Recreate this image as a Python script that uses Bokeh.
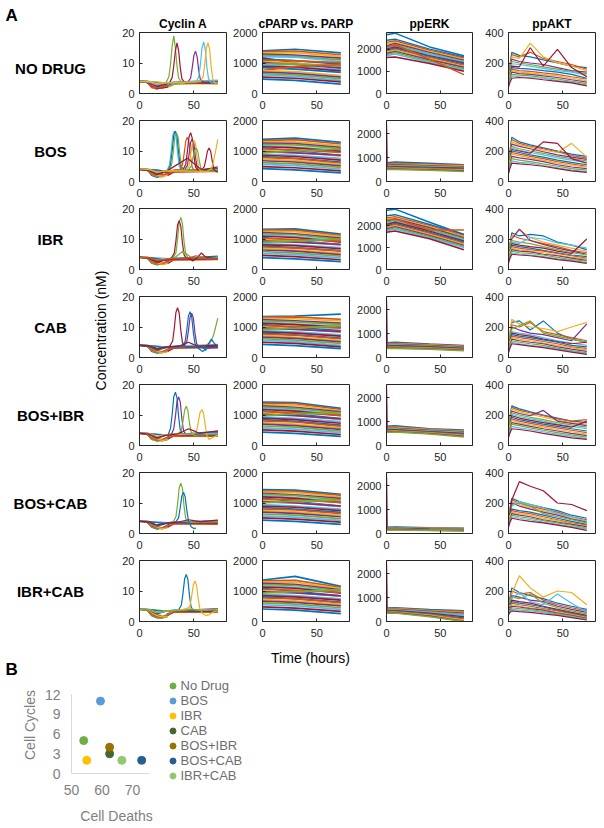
import math
from bokeh.plotting import figure
from bokeh.layouts import row, column
from bokeh.models import Range1d, FixedTicker, Legend, LegendItem, ColumnDataSource
from bokeh.core.properties import value
from bokeh.embed import file_html
from bokeh.resources import INLINE

NaN = float("nan")

# ---------------- labels ----------------
CONDITIONS = ["NO DRUG", "BOS", "IBR", "CAB", "BOS+IBR", "BOS+CAB", "IBR+CAB"]
COLUMN_TITLES = ["Cyclin A", "cPARP vs. PARP", "ppERK", "ppAKT"]
X_TICKS = [0, 50]
CYC_TICKS = [0, 10, 20]
PARP_TICKS = [0, 1000, 2000]
ERK_TICKS = [0, 1000, 2000]
AKT_TICKS = [0, 200, 400]
TIME_MAX = 80
CYC_MAX = 20
PARP_MAX = 2000
AKT_MAX = 400
ERK_MAX = [2750, 2550, 2780, 2550, 2550, 2550, 2550]

# MATLAB default line colours
B_, O_, Y_, P_, G_, C_, R_ = "#0072BD", "#D95319", "#EDB120", "#7E2F8E", "#77AC30", "#4DBEEE", "#A2142F"
MATLAB = [B_, O_, Y_, P_, G_, C_, R_]

# ---------------- Cyclin A ----------------
T_CYC_BASE = [0, 7, 11, 16, 21, 26, 32, 72]

CYC_BASE_NODRUG = [
    [4.0, 3.9, 2.3, 1.6, 2.0, 3.2, 3.5, 3.8], [4.1, 3.8, 1.9, 1.4, 2.3, 3.5, 3.7, 4.2],
    [3.9, 3.9, 3.1, 2.0, 1.6, 2.3, 3.3, 3.4], [4.0, 4.0, 3.6, 2.6, 1.9, 2.6, 3.6, 3.9],
    [4.2, 4.0, 3.7, 3.2, 2.4, 2.1, 3.0, 3.6], [4.0, 3.9, 3.8, 3.7, 3.6, 3.6, 3.7, 4.4],
    [3.9, 3.6, 2.4, 1.7, 1.8, 2.1, NaN, NaN], [4.1, 4.0, 3.9, 3.6, 3.4, 3.3, 3.5, 3.9],
    [4.0, 3.7, 2.1, 1.9, 2.2, 2.4, NaN, NaN], [4.0, 4.0, 3.9, 3.8, 3.6, 3.4, 3.2, 3.1]]
CYC_BASE_BOS = [
    [4.2, 4.0, 2.0, 1.3, 1.8, 3.0, 3.6, 3.9], [4.1, 3.9, 2.8, 1.7, 1.5, 2.4, 3.4, 3.5],
    [4.0, 4.0, 3.5, 2.4, 1.9, 2.8, 3.7, 3.3], [4.1, 3.9, 3.8, 3.5, 3.1, 2.9, 3.5, 4.0],
    [4.0, 3.8, 2.3, 1.6, 2.0, NaN, NaN, NaN], [4.2, 4.1, 3.9, 3.8, 3.6, 3.5, 3.7, 3.6],
    [4.0, 3.9, 3.6, 3.0, 2.3, 2.0, 3.1, 3.4], [4.1, 4.0, 3.9, 3.7, 3.5, 3.4, 3.4, 4.3],
    [4.0, 3.7, 2.5, 1.9, 2.2, 2.6, 3.3, 3.2], [4.0, 3.9, 3.2, 2.1, 1.7, 2.1, NaN, NaN]]
CYC_BASE_IBR = [
    [4.0, 3.9, 2.1, 1.5, 1.8, 2.9, 3.6, 3.7], [4.1, 4.0, 2.9, 1.9, 1.6, 2.5, 3.4, 3.9],
    [4.0, 3.8, 3.6, 2.7, 2.0, 2.4, 3.5, 3.4], [3.9, 3.9, 3.8, 3.6, 3.3, 3.1, 3.4, 3.6],
    [4.0, 3.7, 2.2, 1.6, 1.9, 2.3, NaN, NaN], [4.1, 4.0, 3.9, 3.8, 3.7, 3.6, 3.8, 4.1],
    [4.0, 3.9, 3.4, 2.4, 1.8, 2.0, 3.2, 3.3], [4.0, 4.0, 3.9, 3.5, 3.2, 3.4, 3.6, 4.4],
    [4.1, 3.8, 2.6, 1.8, 2.1, 2.7, 3.1, 3.2], [4.0, 3.9, 3.3, 2.2, 1.7, 2.0, NaN, NaN]]
CYC_BASE_CAB = [
    [4.0, 3.8, 2.0, 1.4, 1.7, 2.8, 3.4, 3.6], [4.1, 4.0, 2.8, 1.8, 1.5, 2.3, 3.3, 3.8],
    [4.0, 3.9, 3.5, 2.6, 1.9, 2.2, 3.4, 3.3], [4.0, 3.9, 3.8, 3.6, 3.4, 3.2, 3.4, 3.9],
    [4.1, 3.7, 2.2, 1.5, 1.8, NaN, NaN, NaN], [4.0, 4.0, 3.9, 3.8, 3.6, 3.5, 3.7, 4.3],
    [4.0, 3.9, 3.3, 2.3, 1.7, 2.0, 3.1, 3.4], [4.1, 4.0, 3.8, 3.6, 3.3, 3.3, 3.5, 3.6],
    [4.0, 3.6, 2.5, 1.8, 2.0, 2.6, 3.2, 3.1], [4.0, 3.9, 3.2, 2.1, 1.6, 1.9, NaN, NaN]]
CYC_BASE_BOSIBR = [
    [4.0, 3.8, 2.0, 1.5, 1.8, 2.9, 3.4, 3.6], [4.1, 3.9, 2.7, 1.8, 1.5, 2.4, 3.3, 3.8],
    [4.0, 3.9, 3.5, 2.6, 1.9, 2.3, 3.5, 3.4], [4.0, 4.0, 3.8, 3.6, 3.4, 3.3, 3.5, 4.2],
    [4.1, 3.7, 2.1, 1.4, 1.6, 1.8, NaN, NaN], [4.0, 4.0, 3.9, 3.8, 3.6, 3.5, 3.7, 4.0],
    [4.0, 3.9, 3.3, 2.3, 1.8, 2.1, 3.2, 3.3], [4.1, 4.0, 3.8, 3.6, 3.4, 3.3, 3.6, 4.6],
    [4.0, 3.6, 2.4, 1.8, 2.1, 2.6, 3.1, 3.0], [4.0, 3.9, 3.2, 2.2, 1.7, 2.0, NaN, NaN]]
CYC_BASE_BOSCAB = [
    [4.0, 3.8, 2.1, 1.4, 1.8, 2.9, 3.5, 3.7], [4.1, 3.9, 2.8, 1.8, 1.5, 2.4, 3.4, 4.0],
    [4.0, 3.9, 3.5, 2.5, 1.9, 2.3, 3.5, 3.5], [4.0, 4.0, 3.8, 3.6, 3.4, 3.3, 3.5, 4.2],
    [4.1, 3.7, 2.2, 1.5, 1.7, 2.0, NaN, NaN], [4.0, 4.0, 3.9, 3.8, 3.7, 3.6, 3.8, 4.3],
    [4.0, 3.9, 3.3, 2.2, 1.8, 2.1, 3.2, 3.3], [4.1, 4.0, 3.8, 3.6, 3.4, 3.4, 3.6, 3.8],
    [4.0, 3.6, 2.4, 1.7, 2.0, 2.5, 3.1, 3.0], [4.0, 3.9, 3.2, 2.1, 1.6, 1.9, NaN, NaN]]
CYC_BASE_IBRCAB = [
    [4.0, 3.8, 1.9, 1.2, 1.1, 2.6, 3.4, 3.6], [4.1, 3.9, 2.7, 1.6, 1.3, 2.2, 3.3, 3.9],
    [4.0, 3.9, 3.5, 2.5, 1.8, 2.2, 3.4, 3.5], [4.0, 4.0, 3.8, 3.6, 3.5, 3.4, 3.5, 4.2],
    [4.1, 3.7, 2.1, 1.3, 1.2, 1.5, NaN, NaN], [4.0, 4.0, 3.9, 3.8, 3.6, 3.6, 3.8, 4.0],
    [4.0, 3.9, 3.2, 2.2, 1.6, 2.0, 3.2, 3.3], [4.1, 4.0, 3.9, 3.6, 3.4, 3.3, 3.5, 3.7],
    [4.0, 3.6, 2.3, 1.5, 1.4, 2.2, 3.0, 3.0], [4.0, 3.9, 3.1, 2.0, 1.5, 1.8, NaN, NaN]]

# cells that enter mitosis: (times, values) per cell
CYC_PEAK_T_NODRUG = [
    [0, 9, 16, 24.5, 27, 28.5, 30, 31.5, 33, 34.5, 36, 39, 72],
    [0, 9, 16, 27.5, 30, 31.5, 33, 34.5, 36, 37.5, 39, 42, 72],
    [0, 9, 16, 24, 44.5, 47, 48.5, 50, 51.5, 53, 54.5, 56, 59, 72],
    [0, 9, 16, 24, 52, 54.5, 56, 57.5, 59, 60.5, 62, 63.5, 66, 72],
    [0, 9, 16, 24, 56, 58.5, 60, 61.5, 63, 64.5, 66, 67.5, 70, 72]]
CYC_PEAK_V_NODRUG = [
    [4.0, 3.6, 2.6, 3.6, 5.5, 9.5, 15.5, 18.9, 15, 9, 5, 3.6, 3.9],
    [4.0, 3.4, 2.2, 3.4, 5.2, 9, 14, 16.6, 14, 8.5, 4.8, 3.5, 3.3],
    [4.0, 3.5, 2.4, 3.3, 3.8, 5, 8.5, 12.5, 13.9, 12, 7.5, 4.5, 3.6, 3.8],
    [4.0, 3.7, 2.9, 3.4, 3.8, 5.5, 9.5, 15, 16.9, 14.5, 8.5, 4.8, 3.5, 3.6],
    [4.0, 3.8, 3.2, 3.5, 3.9, 5.5, 9.5, 15, 16.7, 14.5, 8.5, 4.5, 3.0, 3.3]]
CYC_PEAK_C_NODRUG = [G_, R_, P_, C_, Y_]

CYC_PEAK_T_BOS = [
    [0, 9, 16, 25, 27.5, 29, 30.5, 32, 33.5, 35, 36.5, 39, 72],
    [0, 9, 16, 26, 28.5, 30, 31.5, 33, 34.5, 36, 37.5, 40, 72],
    [0, 9, 16, 27, 29.5, 31, 32.5, 34, 35.5, 37, 38.5, 41, 72],
    [0, 9, 16, 25, 37, 39.5, 41, 42.5, 44, 45.5, 47, 48.5, 51, 72],
    [0, 9, 16, 25, 40, 42.5, 44, 45.5, 47, 48.5, 50, 51.5, 54, 72],
    [0, 9, 16, 25, 41.5, 44, 45.5, 47, 48.5, 50, 51.5, 53, 55.5, 72],
    [0, 9, 16, 25, 43, 45.5, 47, 48.5, 50, 51.5, 53, 54.5, 57, 72],
    [0, 9, 16, 25, 45, 47.5, 49, 50.5, 52, 53.5, 55, 56.5, 59, 72],
    [0, 9, 16, 25, 44, 57, 59.5, 61, 62.5, 64, 65.5, 67, 68.5, 72],
    [0, 9, 16, 25, 45, 62, 66, 68, 70, 72]]
CYC_PEAK_V_BOS = [
    [4.1, 3.8, 2.8, 3.5, 5.3, 9.5, 15, 16.6, 15, 9.5, 5, 3.6, 3.7],
    [4.0, 3.5, 2.3, 3.4, 5.5, 9.8, 15.2, 16.5, 15, 9.3, 5.2, 3.7, 3.5],
    [4.0, 3.7, 2.7, 3.5, 5.4, 9.6, 14.8, 16.0, 14.6, 9.2, 5.0, 3.8, 3.9],
    [4.1, 3.8, 2.9, 3.4, 3.9, 5.4, 9.0, 13.2, 14.5, 13.0, 8.0, 4.6, 3.4, 3.6],
    [4.0, 3.6, 2.5, 3.3, 3.9, 5.6, 9.8, 14.6, 16.0, 14.2, 8.6, 4.8, 3.5, 4.8],
    [4.0, 3.7, 2.2, 3.2, 3.8, 5.2, 8.8, 12.8, 14.0, 12.6, 7.8, 4.6, 3.4, 3.6],
    [4.1, 3.9, 3.0, 3.5, 3.8, 5.0, 8.5, 12.4, 13.5, 12.2, 7.6, 4.4, 3.2, 3.4],
    [4.0, 3.8, 2.6, 3.3, 3.9, 5.0, 7.6, 10.2, 11.0, 10.0, 6.8, 4.2, 3.2, 3.5],
    [4.0, 3.6, 2.4, 3.4, 7.6, 3.9, 4.8, 7.2, 10.0, 11.0, 9.8, 6.4, 3.8, 3.0],
    [4.1, 3.9, 3.1, 3.5, 3.4, 3.3, 4.2, 6.5, 10.0, 13.8]]
CYC_PEAK_C_BOS = [C_, B_, G_, O_, R_, P_, Y_, G_, R_, Y_]

CYC_PEAK_T_IBR = [
    [0, 9, 16, 26, 31, 33.5, 35, 36.5, 38, 39.5, 41, 42.5, 45, 72],
    [0, 9, 16, 26, 29.5, 32, 33.5, 35, 36.5, 38, 39.5, 41, 43.5, 72],
    [0, 9, 16, 26, 32, 36, 40, 44, 48, 72],
    [0, 9, 16, 26, 46, 49, 53, 57, 61, 72],
    [0, 9, 16, 26, 42, 47, 52, 57, 62, 72]]
CYC_PEAK_V_IBR = [
    [4.0, 3.7, 2.5, 3.4, 3.9, 5.5, 9.8, 15.5, 17.1, 15.0, 9.0, 5.0, 3.6, 3.8],
    [4.1, 3.6, 2.3, 3.3, 3.8, 5.4, 9.4, 14.6, 16.0, 14.2, 8.6, 4.8, 3.5, 3.6],
    [4.0, 3.8, 2.9, 3.4, 3.8, 4.9, 6.0, 4.9, 3.8, 3.7],
    [4.0, 3.7, 2.7, 3.3, 3.6, 2.8, 3.9, 5.4, 4.0, 3.5],
    [4.0, 3.9, 3.0, 3.5, 3.6, 4.0, 4.5, 4.0, 3.6, 3.5]]
CYC_PEAK_C_IBR = [G_, R_, G_, R_, O_]

CYC_PEAK_T_CAB = [
    [0, 9, 16, 25, 28, 30.5, 32, 33.5, 35, 36.5, 38, 39.5, 42, 72],
    [0, 9, 16, 25, 39.5, 42, 43.5, 45, 46.5, 48, 49.5, 51, 54, 58, 62, 72],
    [0, 9, 16, 25, 41, 43.5, 45, 46.5, 48, 49.5, 51, 52.5, 55, 72],
    [0, 9, 16, 25, 45, 60, 65, 68, 70, 72],
    [0, 9, 16, 25, 50, 58, 61, 63.5, 66, 68.5, 72],
    [0, 9, 16, 25, 36, 41, 45, 49, 54, 72]]
CYC_PEAK_V_CAB = [
    [4.0, 3.6, 2.4, 3.3, 3.8, 5.4, 9.6, 14.8, 16.3, 14.6, 8.8, 4.9, 3.5, 3.7],
    [4.0, 3.7, 2.6, 3.3, 3.8, 5.3, 9.0, 13.6, 15.0, 13.4, 8.2, 4.6, 3.0, 2.0, 3.0, 3.4],
    [4.1, 3.8, 2.8, 3.4, 3.8, 5.2, 8.8, 13.2, 14.5, 13.0, 8.0, 4.6, 3.3, 3.5],
    [4.0, 3.9, 3.0, 3.5, 3.6, 3.8, 4.8, 7.2, 10.0, 12.9],
    [4.0, 3.7, 2.7, 3.4, 3.6, 3.3, 2.4, 4.6, 6.0, 4.8, 3.2],
    [4.0, 3.8, 2.9, 3.5, 3.7, 4.4, 5.0, 4.4, 3.7, 4.1]]
CYC_PEAK_C_CAB = [R_, B_, P_, G_, B_, R_]

CYC_PEAK_T_BOSIBR = [
    [0, 9, 16, 24, 26.5, 28.5, 30, 31.5, 33, 34.5, 36, 37.5, 40, 72],
    [0, 9, 16, 24, 29.5, 31.5, 33, 34.5, 36, 37.5, 39, 40.5, 43, 72],
    [0, 9, 16, 24, 36, 38.5, 40, 41.5, 43, 44.5, 46, 47.5, 50, 72],
    [0, 9, 16, 24, 50, 52.5, 54, 55.5, 57.5, 59, 60.5, 62, 64, 67, 72],
    [0, 9, 16, 24, 35, 40, 45, 50, 55, 72]]
CYC_PEAK_V_BOSIBR = [
    [4.0, 3.6, 2.4, 3.3, 3.7, 5.6, 10.0, 16.0, 17.5, 15.6, 9.4, 5.0, 3.5, 3.6],
    [4.1, 3.7, 2.6, 3.4, 3.8, 5.5, 9.4, 14.4, 15.9, 14.2, 8.6, 4.8, 3.4, 3.5],
    [4.0, 3.8, 2.8, 3.4, 3.8, 5.0, 8.0, 11.6, 12.9, 11.4, 7.2, 4.4, 3.3, 3.7],
    [4.0, 3.9, 3.0, 3.5, 3.8, 4.8, 7.4, 10.6, 11.8, 10.4, 6.4, 3.2, 2.0, 2.6, 3.4],
    [4.0, 3.7, 2.5, 3.3, 3.8, 4.6, 5.5, 4.8, 4.0, 4.8]]
CYC_PEAK_C_BOSIBR = [B_, P_, G_, Y_, R_]

CYC_PEAK_T_BOSCAB = [
    [0, 9, 16, 25, 31, 33.5, 35, 36.5, 38, 39.5, 41, 42.5, 45, 72],
    [0, 9, 16, 25, 33.5, 36, 37.5, 39, 40.5, 42, 43.5, 45, 47.5, 50, 52],
    [0, 9, 16, 25, 35, 40, 45, 50, 56, 72]]
CYC_PEAK_V_BOSCAB = [
    [4.0, 3.7, 2.6, 3.4, 3.8, 5.5, 9.6, 15.0, 16.5, 14.8, 8.8, 4.9, 3.6, 3.9],
    [4.1, 3.6, 2.4, 3.3, 3.8, 5.2, 8.6, 12.4, 13.5, 12.0, 7.6, 4.2, 2.2, 1.6, 1.8],
    [4.0, 3.8, 2.8, 3.4, 3.7, 4.1, 4.5, 4.2, 3.9, 4.4]]
CYC_PEAK_C_BOSCAB = [G_, B_, R_]

CYC_PEAK_T_IBRCAB = [
    [0, 9, 16, 25, 36, 38.5, 40, 41.5, 43, 44.5, 46, 47.5, 50, 72],
    [0, 9, 16, 25, 44, 46.5, 48, 49.5, 51, 52.5, 54, 55.5, 58, 61, 64, 68, 72],
    [0, 9, 16, 25, 37, 41, 45, 49, 54, 72],
    [0, 9, 16, 25, 40, 44, 48, 52, 56, 72]]
CYC_PEAK_V_IBRCAB = [
    [4.0, 3.7, 2.5, 3.4, 3.8, 5.4, 9.2, 14.0, 15.4, 13.8, 8.4, 4.7, 3.5, 3.6],
    [4.0, 3.9, 3.0, 3.5, 3.9, 5.2, 8.4, 12.0, 13.3, 11.8, 7.4, 4.2, 2.6, 2.0, 2.2, 3.2, 3.5],
    [4.1, 3.8, 2.9, 3.4, 3.7, 4.1, 4.5, 4.1, 3.7, 3.9],
    [4.0, 3.8, 3.0, 3.5, 3.6, 3.8, 4.0, 3.8, 3.6, 4.1]]
CYC_PEAK_C_IBRCAB = [B_, Y_, Y_, G_]

# ---------------- cPARP vs PARP ----------------
T_PARP = [0, 30, 72]
PARP_NODRUG = [
    [1400, 1450, 1330], [1370, 1390, 1270], [1330, 1340, 1220], [1290, 1260, 1160], [1250, 1220, 1100],
    [1210, 1190, 1050], [1170, 1000, 820], [1130, 1080, 960], [1090, 1070, 1010], [1050, 1000, 900],
    [1010, 950, 840], [970, 960, 900], [930, 880, 780], [890, 860, 740], [850, 800, 690],
    [760, 880, 950], [750, 720, 590], [700, 660, 540], [650, 610, 490], [600, 560, 430],
    [540, 500, 380], [470, 430, 310]]
PARP_BOS = [
    [1380, 1420, 1280], [1340, 1370, 1230], [1300, 1300, 1180], [1260, 1240, 1120], [1220, 1200, 1080],
    [1180, 1130, 1020], [1140, 1100, 990], [1100, 1000, 860], [1060, 1040, 950], [1020, 960, 830],
    [980, 940, 860], [940, 1000, 1060], [900, 860, 760], [860, 820, 700], [820, 760, 640],
    [780, 750, 600], [730, 690, 560], [680, 640, 510], [620, 580, 460], [560, 520, 410],
    [490, 450, 350], [420, 380, 280]]
PARP_IBR = [
    [1320, 1330, 1160], [1290, 1290, 1120], [1250, 1240, 1080], [1210, 1170, 1030], [1170, 1140, 990],
    [1130, 1080, 940], [1090, 1050, 900], [1050, 950, 820], [1010, 990, 930], [970, 920, 800],
    [930, 900, 820], [890, 940, 1000], [850, 810, 720], [810, 780, 680], [770, 720, 620],
    [730, 700, 600], [690, 640, 540], [640, 600, 490], [590, 540, 440], [530, 490, 380],
    [460, 420, 320], [390, 350, 260]]
PARP_CAB = [
    [1340, 1360, 1420], [1320, 1330, 1250], [1280, 1270, 1200], [1240, 1200, 1130], [1200, 1170, 1080],
    [1160, 1100, 1020], [1120, 1080, 990], [1080, 980, 880], [1040, 1020, 960], [1000, 940, 830],
    [960, 920, 850], [920, 960, 1040], [880, 840, 740], [840, 800, 700], [800, 740, 640],
    [760, 730, 610], [720, 670, 560], [670, 630, 510], [620, 570, 460], [560, 520, 400],
    [500, 460, 350], [430, 390, 290]]
PARP_BOSIBR = [
    [1420, 1410, 1220], [1380, 1370, 1180], [1340, 1320, 1140], [1300, 1250, 1100], [1260, 1220, 1060],
    [1220, 1160, 1010], [1180, 1130, 980], [1140, 1030, 880], [1100, 1080, 990], [1060, 990, 850],
    [1020, 980, 870], [980, 1040, 1080], [940, 890, 780], [900, 850, 730], [850, 790, 670],
    [800, 770, 630], [750, 700, 580], [700, 650, 530], [640, 600, 470], [580, 540, 420],
    [510, 470, 360], [440, 400, 300]]
PARP_BOSCAB = [
    [1440, 1420, 1280], [1400, 1380, 1250], [1360, 1340, 1200], [1320, 1270, 1150], [1280, 1240, 1100],
    [1240, 1180, 1050], [1200, 1150, 1010], [1160, 1050, 900], [1120, 1100, 1020], [1080, 1010, 880],
    [1040, 1000, 900], [1000, 1060, 1100], [950, 900, 800], [900, 860, 750], [850, 800, 690],
    [800, 770, 650], [750, 710, 600], [700, 660, 550], [640, 600, 490], [580, 540, 430],
    [510, 470, 370], [440, 400, 300]]
PARP_IBRCAB = [
    [1360, 1480, 1150], [1330, 1350, 1120], [1290, 1290, 1080], [1250, 1220, 1040], [1210, 1180, 1000],
    [1170, 1120, 960], [1130, 1090, 930], [1090, 990, 840], [1050, 1030, 950], [1010, 950, 820],
    [970, 940, 840], [930, 980, 1040], [890, 850, 740], [850, 810, 700], [810, 750, 640],
    [770, 740, 610], [720, 680, 560], [670, 630, 510], [610, 570, 450], [550, 510, 400],
    [480, 440, 330], [410, 370, 260]]

# ---------------- ppERK ----------------
T_ERK = [0, 8, 40, 72]
ERK_NODRUG = [
    [2400, 2450, 2000, 1650], [2300, 2380, 1950, 1600], [2250, 2300, 1900, 1550], [2150, 2250, 1850, 1500],
    [2100, 2200, 1800, 1450], [2050, 2150, 1780, 1420], [2000, 2100, 1700, 1380], [1950, 2050, 1680, 1330],
    [1900, 2000, 1620, 1280], [1850, 1950, 1580, 1220], [1800, 1900, 1520, 1180], [1750, 1850, 1450, 1120],
    [1700, 1780, 1400, 1060], [1620, 1650, 1350, 1000], [2650, 2720, 2100, 1700], [2100, 2200, 1550, 850]]
ERK_BOS = [
    [780, 820, 760, 700], [740, 760, 720, 680], [700, 720, 690, 650], [680, 700, 660, 620],
    [650, 670, 640, 600], [630, 640, 610, 570], [600, 620, 590, 550], [580, 600, 560, 520],
    [560, 570, 540, 500], [540, 550, 510, 480], [520, 520, 490, 450], [500, 500, 470, 420]]
ERK_IBR = [
    [2450, 2500, 2050, 1600], [2350, 2400, 2000, 1550], [2300, 2350, 1950, 1500], [2200, 2300, 1900, 1450],
    [2150, 2250, 1850, 1400], [2100, 2200, 1800, 1350], [2050, 2150, 1750, 1300], [2000, 2100, 1700, 1250],
    [1950, 2050, 1650, 1200], [1900, 2000, 1600, 1150], [1850, 1950, 1550, 1100], [1800, 1900, 1500, 1050],
    [1750, 1850, 1450, 1000], [1700, 1750, 1400, 900], [2700, 2750, 2150, 1600], [2250, 2300, 1800, 1800]]
ERK_CAB = [
    [620, 640, 560, 500], [590, 600, 540, 480], [560, 570, 520, 460], [540, 550, 500, 440],
    [520, 530, 480, 420], [500, 510, 460, 400], [480, 490, 450, 380], [460, 470, 430, 360],
    [440, 450, 410, 340], [420, 420, 390, 320], [400, 400, 370, 300], [380, 380, 350, 280]]
ERK_BOSIBR = [
    [800, 830, 700, 650], [760, 780, 680, 620], [730, 750, 660, 600], [710, 720, 640, 580],
    [690, 700, 620, 550], [670, 680, 600, 530], [650, 660, 580, 500], [630, 640, 560, 480],
    [610, 620, 540, 450], [590, 600, 520, 420], [570, 580, 500, 390], [550, 560, 480, 360]]
ERK_BOSCAB = [
    [260, 270, 240, 220], [250, 255, 230, 210], [240, 245, 220, 200], [230, 235, 210, 190],
    [220, 225, 200, 180], [210, 215, 190, 170], [200, 205, 180, 160], [190, 195, 170, 150],
    [180, 185, 160, 140], [170, 175, 150, 130], [160, 165, 140, 120], [150, 150, 130, 100]]
ERK_IBRCAB = [
    [560, 580, 500, 450], [540, 550, 470, 420], [520, 530, 450, 380], [500, 510, 430, 340],
    [480, 490, 410, 300], [460, 470, 380, 260], [440, 450, 350, 200], [420, 430, 320, 150],
    [400, 410, 290, 100], [380, 390, 260, 50], [360, 370, 230, 10], [340, 350, 200, 0]]
# first-frame outliers (value at t=0 and at the next frame)
T_ERK_SPIKE = [0, 0.6]
ERK_SPIKE_TOP = [[], [2550, 2300], [], [2550, 2300], [2550, 2300], [2550, 2300], [2550, 2300]]
ERK_SPIKE_BOTTOM = [[], [650, 600], [], [500, 450], [700, 650], [250, 220], [550, 500]]
ERK_SPIKE_COLORS = [O_, P_]

# ---------------- ppAKT ----------------
T_AKT = [0, 3, 10, 20, 32, 45, 58, 72]
AKT_NODRUG = [
    [120, 270, 250, 240, 220, 200, 180, 170], [100, 255, 240, 270, 230, 210, 190, 160],
    [90, 240, 230, 330, 240, 200, 180, 150], [80, 225, 210, 200, 190, 170, 150, 140],
    [110, 210, 200, 190, 175, 160, 145, 130], [70, 195, 190, 180, 165, 150, 140, 120],
    [60, 180, 175, 300, 180, 290, 170, 110], [90, 170, 165, 160, 150, 140, 125, 100],
    [50, 160, 150, 145, 135, 125, 110, 95], [100, 150, 140, 135, 125, 115, 100, 85],
    [40, 140, 130, 125, 115, 105, 90, 75], [80, 125, 120, 115, 105, 95, 80, 65],
    [60, 115, 110, 105, 100, 85, 75, 55], [50, 100, 105, 100, 90, 80, 70, 50]]
AKT_BOS = [
    [130, 290, 260, 240, 220, 200, 180, 165], [110, 275, 250, 230, 215, 195, 170, 155],
    [100, 260, 240, 225, 205, 190, 250, 160], [90, 245, 230, 215, 195, 175, 160, 145],
    [120, 230, 215, 200, 185, 165, 150, 135], [80, 220, 205, 190, 175, 155, 140, 125],
    [70, 210, 200, 185, 260, 250, 150, 120], [100, 200, 190, 175, 160, 140, 125, 110],
    [60, 190, 180, 165, 150, 130, 115, 100], [110, 180, 170, 155, 140, 120, 105, 95],
    [50, 165, 155, 145, 130, 110, 95, 85], [90, 150, 140, 130, 115, 100, 85, 75],
    [70, 135, 125, 120, 105, 90, 75, 65], [60, 120, 115, 110, 100, 85, 70, 60]]
AKT_IBR = [
    [110, 240, 220, 230, 220, 180, 160, 130], [100, 225, 205, 190, 170, 150, 125, 110],
    [90, 215, 260, 210, 180, 160, 140, 120], [80, 200, 265, 190, 165, 140, 120, 100],
    [120, 190, 180, 170, 150, 130, 110, 95], [70, 180, 170, 210, 200, 175, 160, 140],
    [60, 170, 160, 150, 140, 120, 105, 200], [90, 160, 150, 140, 125, 110, 95, 85],
    [50, 150, 140, 130, 120, 105, 90, 75], [100, 140, 130, 120, 110, 95, 80, 70],
    [40, 130, 120, 115, 100, 90, 75, 60], [80, 120, 110, 105, 95, 80, 65, 55],
    [60, 110, 100, 95, 85, 70, 60, 45], [50, 100, 95, 90, 80, 65, 55, 40]]
AKT_CAB = [
    [100, 230, 240, 180, 240, 160, 120, 100], [80, 215, 200, 230, 170, 150, 130, 110],
    [90, 250, 220, 200, 190, 170, 200, 230], [70, 200, 180, 160, 150, 130, 110, 220],
    [110, 185, 210, 240, 160, 140, 120, 100], [60, 170, 160, 150, 130, 110, 95, 80],
    [50, 160, 150, 140, 120, 105, 90, 100], [80, 150, 140, 130, 115, 100, 80, 70],
    [40, 140, 130, 120, 105, 90, 70, 60], [90, 130, 120, 110, 95, 80, 65, 50],
    [30, 120, 110, 100, 90, 70, 55, 40], [70, 110, 100, 90, 80, 60, 45, 30],
    [50, 100, 90, 80, 70, 55, 40, 25], [40, 90, 85, 75, 65, 50, 35, 20]]
AKT_BOSIBR = [
    [130, 260, 240, 220, 200, 180, 160, 150], [110, 250, 230, 215, 195, 175, 160, 170],
    [100, 240, 220, 205, 185, 165, 150, 140], [90, 225, 210, 195, 230, 160, 145, 130],
    [120, 215, 200, 185, 170, 150, 135, 120], [80, 205, 190, 175, 160, 140, 125, 110],
    [70, 195, 180, 165, 150, 135, 120, 160], [100, 185, 170, 155, 140, 125, 110, 95],
    [60, 175, 160, 145, 130, 115, 100, 85], [110, 165, 150, 135, 120, 105, 90, 75],
    [50, 150, 140, 125, 110, 95, 80, 65], [90, 140, 130, 115, 100, 85, 70, 55],
    [70, 125, 115, 105, 90, 75, 60, 45], [60, 110, 105, 95, 80, 65, 50, 40]]
AKT_BOSCAB = [
    [110, 230, 210, 190, 170, 150, 120, 100], [90, 220, 200, 180, 160, 140, 110, 90],
    [100, 210, 190, 170, 150, 130, 100, 80], [80, 200, 180, 160, 140, 120, 95, 75],
    [120, 190, 200, 180, 130, 110, 90, 70], [70, 180, 210, 190, 170, 130, 110, 80],
    [60, 220, 340, 310, 280, 200, 190, 150], [90, 160, 150, 140, 120, 100, 80, 60],
    [50, 150, 140, 130, 110, 90, 70, 55], [100, 140, 130, 120, 100, 85, 65, 50],
    [40, 130, 120, 110, 90, 75, 60, 45], [80, 120, 110, 100, 85, 70, 55, 35],
    [60, 110, 100, 90, 75, 60, 45, 30], [50, 100, 90, 80, 70, 55, 40, 20]]
AKT_IBRCAB = [
    [110, 220, 190, 170, 150, 120, 100, 80], [90, 200, 180, 190, 140, 110, 90, 70],
    [100, 180, 300, 220, 160, 200, 190, 110], [80, 170, 160, 140, 130, 100, 80, 60],
    [120, 160, 150, 180, 120, 90, 70, 50], [70, 150, 190, 130, 110, 180, 120, 60],
    [60, 140, 130, 120, 100, 80, 60, 40], [90, 130, 120, 110, 95, 75, 55, 35],
    [50, 120, 110, 100, 85, 70, 50, 30], [100, 110, 100, 90, 80, 60, 45, 25],
    [40, 100, 95, 85, 75, 55, 40, 20], [80, 90, 85, 80, 65, 50, 35, 15],
    [60, 80, 75, 70, 60, 45, 30, 12], [50, 70, 65, 60, 50, 40, 25, 10]]

# ---------------- panel B ----------------
DRUG_NAMES = ["No Drug", "BOS", "IBR", "CAB", "BOS+IBR", "BOS+CAB", "IBR+CAB"]
CELL_DEATHS = [54, 59.5, 55, 62.5, 62.5, 73, 66.5]
CELL_CYCLES = [5, 11, 2, 3, 4, 2, 2]
B_X_TICKS = [50, 60, 70]
B_Y_TICKS = [0, 3, 6, 9, 12]
B_COLORS = ["#70AD47", "#5B9BD5", "#FFC000", "#43682B", "#997300", "#255E91", "#92C86E"]

# grouped per row (references to the named lists above)
CYC_BASE = [CYC_BASE_NODRUG, CYC_BASE_BOS, CYC_BASE_IBR, CYC_BASE_CAB, CYC_BASE_BOSIBR, CYC_BASE_BOSCAB, CYC_BASE_IBRCAB]
CYC_PEAK_T = [CYC_PEAK_T_NODRUG, CYC_PEAK_T_BOS, CYC_PEAK_T_IBR, CYC_PEAK_T_CAB, CYC_PEAK_T_BOSIBR, CYC_PEAK_T_BOSCAB, CYC_PEAK_T_IBRCAB]
CYC_PEAK_V = [CYC_PEAK_V_NODRUG, CYC_PEAK_V_BOS, CYC_PEAK_V_IBR, CYC_PEAK_V_CAB, CYC_PEAK_V_BOSIBR, CYC_PEAK_V_BOSCAB, CYC_PEAK_V_IBRCAB]
CYC_PEAK_C = [CYC_PEAK_C_NODRUG, CYC_PEAK_C_BOS, CYC_PEAK_C_IBR, CYC_PEAK_C_CAB, CYC_PEAK_C_BOSIBR, CYC_PEAK_C_BOSCAB, CYC_PEAK_C_IBRCAB]
PARP = [PARP_NODRUG, PARP_BOS, PARP_IBR, PARP_CAB, PARP_BOSIBR, PARP_BOSCAB, PARP_IBRCAB]
ERK = [ERK_NODRUG, ERK_BOS, ERK_IBR, ERK_CAB, ERK_BOSIBR, ERK_BOSCAB, ERK_IBRCAB]
AKT = [AKT_NODRUG, AKT_BOS, AKT_IBR, AKT_CAB, AKT_BOSIBR, AKT_BOSCAB, AKT_IBRCAB]

FONT = "Liberation Sans"
AX = "#262626"

# layout geometry (pixels, page origin at top-left)
PAGE_W, PAGE_H = 604, 828
LEFT_W = 117
COL_BL = [22, 35, 31, 35]
COL_BR = [1, 5, 1, 1]
FRAME_W = 87
FRAME_H = 61
ROW_STEP = 88
TOP_BORDER0 = 32
BOTTOM_BORDER = 20
TOP_H = TOP_BORDER0 + FRAME_H + BOTTOM_BORDER + 6 * ROW_STEP


def clean(ts, vs):
    pts = [(t, v) for t, v in zip(ts, vs) if not math.isnan(v)]
    return [a for a, _ in pts], [b for _, b in pts]


def add_lines(p, ts, rows, lw):
    xs, ys, cs = [], [], []
    for i, vals in enumerate(rows):
        x, y = clean(ts, vals)
        xs.append(x)
        ys.append(y)
        cs.append(MATLAB[i % 7])
    p.multi_line(xs="xs", ys="ys", line_color="c", line_width=lw,
                 source=ColumnDataSource(dict(xs=xs, ys=ys, c=cs)))


def panel(ci, ri, ymax, yticks):
    bt = TOP_BORDER0 if ri == 0 else ROW_STEP - FRAME_H - BOTTOM_BORDER
    p = figure(width=COL_BL[ci] + FRAME_W + COL_BR[ci], height=bt + FRAME_H + BOTTOM_BORDER,
               x_range=Range1d(0, TIME_MAX), y_range=Range1d(0, ymax),
               output_backend="svg", toolbar_location=None,
               min_border_left=COL_BL[ci], min_border_right=COL_BR[ci],
               min_border_top=bt, min_border_bottom=BOTTOM_BORDER)
    if ri == 0:
        p.title.text = COLUMN_TITLES[ci]
        p.title.align = "center"
        p.title.text_font = FONT
        p.title.text_font_size = "12px"
        p.title.text_font_style = "bold"
        p.title.text_color = "black"
        p.title.standoff = 3
    p.grid.visible = False
    p.outline_line_color = AX
    p.outline_line_alpha = 1.0
    p.outline_line_width = 1
    p.xaxis.ticker = FixedTicker(ticks=X_TICKS)
    p.yaxis.ticker = FixedTicker(ticks=yticks)
    for ax in (p.xaxis, p.yaxis):
        ax.major_tick_in = 3
        ax.major_tick_out = 0
        ax.minor_tick_in = 0
        ax.minor_tick_out = 0
        ax.axis_line_color = AX
        ax.major_tick_line_color = AX
        ax.major_label_text_font = FONT
        ax.major_label_text_font_size = "11px"
        ax.major_label_text_color = AX
    p.xaxis.major_label_standoff = 7
    p.yaxis.major_label_standoff = 5
    return p


def blank(x0, x1, y0, y1):
    # page-coordinate canvas: x grows right, y grows downward
    p = figure(width=x1 - x0, height=y1 - y0, x_range=Range1d(x0, x1), y_range=Range1d(y1, y0),
               x_axis_type=None, y_axis_type=None, output_backend="svg", toolbar_location=None,
               min_border_left=0, min_border_right=0, min_border_top=0, min_border_bottom=0)
    p.grid.visible = False
    p.outline_line_color = None
    return p


rows = []
for ri in range(7):
    figs = []
    p = panel(0, ri, CYC_MAX, CYC_TICKS)
    add_lines(p, T_CYC_BASE, CYC_BASE[ri], 1.2)
    for ts, vs, c in zip(CYC_PEAK_T[ri], CYC_PEAK_V[ri], CYC_PEAK_C[ri]):
        p.line(ts, vs, line_color=c, line_width=1.2)
    figs.append(p)
    p = panel(1, ri, PARP_MAX, PARP_TICKS)
    add_lines(p, T_PARP, PARP[ri], 1.7)
    figs.append(p)
    p = panel(2, ri, ERK_MAX[ri], ERK_TICKS)
    add_lines(p, T_ERK, ERK[ri], 1.5)
    for top, bot, c in zip(ERK_SPIKE_TOP[ri], ERK_SPIKE_BOTTOM[ri], ERK_SPIKE_COLORS):
        p.line(T_ERK_SPIKE, [top, bot], line_color=c, line_width=1.2)
    figs.append(p)
    p = panel(3, ri, AKT_MAX, AKT_TICKS)
    add_lines(p, T_AKT, AKT[ri], 1.2)
    figs.append(p)
    rows.append(row(*figs))

# left strip: panel letter, row labels, y label
left = blank(0, LEFT_W, 0, TOP_H)
label_y = [32 + ROW_STEP * i + FRAME_H / 2 + (5 if i == 0 else 0) for i in range(7)]
left.text(x=[50] * 7, y=label_y, text=CONDITIONS, text_font=value(FONT), text_font_size="15px",
          text_font_style="bold", text_align="center", text_baseline="middle", text_color="black")
left.text(x=[5], y=[15], text=["A"], text_font=value(FONT), text_font_size="17px",
          text_font_style="bold", text_align="left", text_baseline="middle", text_color="black")
left.text(x=[100], y=[330], text=["Concentration (nM)"], angle=math.pi / 2, text_font=value(FONT),
          text_font_size="14px", text_align="center", text_baseline="middle", text_color="black")

top = row(left, column(*rows))

# ---------------- bottom strip: panel B ----------------
BOT_H = PAGE_H - TOP_H
GRAY = "#808080"
BL_W = 18
FR_L, FR_TOP, FR_BOTTOM = 65, 676, 773
PX_X, PX_Y = 3.25, 6.58
X_END = 79.5
FR_W = int(round((X_END - 50) * PX_X))
SC_W = FR_L - BL_W + FR_W

bleft = blank(0, BL_W, TOP_H, PAGE_H)
bleft.text(x=[5], y=[668.5], text=["B"], text_font=value(FONT), text_font_size="17px",
           text_font_style="bold", text_align="left", text_baseline="middle", text_color="black")

sc = figure(width=SC_W, height=BOT_H, x_range=Range1d(50, X_END),
            y_range=Range1d(0, (FR_BOTTOM - FR_TOP) / PX_Y),
            output_backend="svg", toolbar_location=None,
            min_border_left=FR_L - BL_W, min_border_right=0, min_border_top=FR_TOP - TOP_H,
            min_border_bottom=PAGE_H - FR_BOTTOM)
sc.grid.visible = False
sc.outline_line_color = None
sc.xaxis.ticker = FixedTicker(ticks=B_X_TICKS)
sc.yaxis.ticker = FixedTicker(ticks=B_Y_TICKS)
sc.xaxis.bounds = (50, 75.5)
sc.yaxis.bounds = (0, 12)
sc.xaxis.axis_label = "Cell Deaths"
sc.yaxis.axis_label = "Cell Cycles"
for ax in (sc.xaxis, sc.yaxis):
    ax.axis_line_color = "#D9D9D9"
    ax.major_tick_in = 0
    ax.major_tick_out = 0
    ax.minor_tick_in = 0
    ax.minor_tick_out = 0
    ax.major_label_text_font = FONT
    ax.major_label_text_font_size = "14px"
    ax.major_label_text_color = GRAY
    ax.axis_label_text_font = FONT
    ax.axis_label_text_font_size = "14px"
    ax.axis_label_text_font_style = "normal"
    ax.axis_label_text_color = GRAY
    ax.major_label_standoff = 11
sc.xaxis.axis_label_standoff = 10
sc.yaxis.axis_label_standoff = 4

for xd, yc, col in zip(CELL_DEATHS, CELL_CYCLES, B_COLORS):
    sc.scatter([xd], [yc], size=8, fill_color=col, line_color=col)

# right part: x-axis title of panel A and legend of panel B
LG_X0 = BL_W + SC_W
lg = blank(LG_X0, PAGE_W, TOP_H, PAGE_H)
lg.text(x=[310], y=[657.5], text=["Time (hours)"], text_font=value(FONT), text_font_size="14px",
        text_align="center", text_baseline="middle", text_color="black")
items = []
for name, col in zip(DRUG_NAMES, B_COLORS):
    r = lg.scatter(x=[NaN], y=[NaN], size=8, fill_color=col, line_color=col)
    items.append(LegendItem(label=name, renderers=[r]))
LEG_ROW = 15
LEG_TOP = 674.5
LEG_H = 108.5
legend = Legend(items=items, location=(163.5 - LG_X0, PAGE_H - LEG_TOP - LEG_H),
                padding=0, spacing=0, margin=0,
                glyph_width=17, glyph_height=LEG_ROW, label_height=LEG_ROW, label_standoff=0,
                label_text_font=FONT, label_text_font_size="13px", label_text_color="#6E6E6E",
                border_line_color=None, background_fill_alpha=0)
lg.add_layout(legend)

# nested columns keep the text/legend canvases independent of the scatter frame
layout = column(top, row(column(bleft), sc, column(lg)))
open("out.html", "w").write(file_html(layout, INLINE))
